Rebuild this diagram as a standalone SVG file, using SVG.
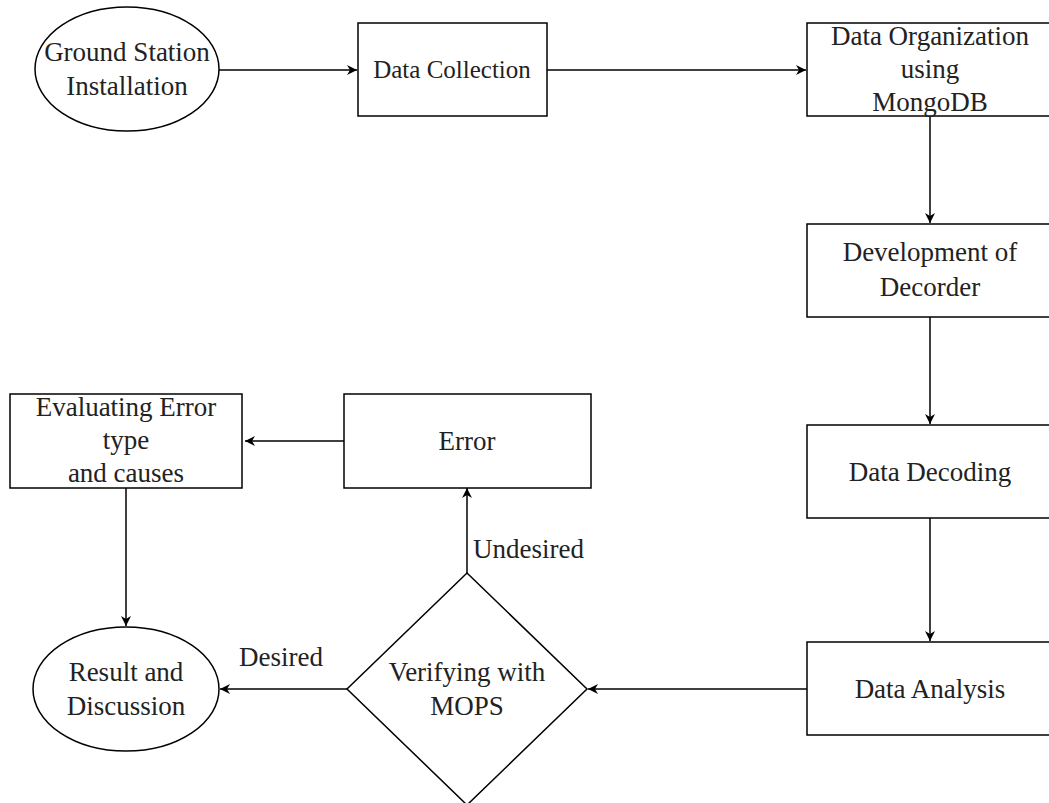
<svg xmlns="http://www.w3.org/2000/svg" width="1049" height="803" viewBox="0 0 1049 803">
<style>
.s{fill:#fff;stroke:#000;stroke-width:1.5}
.t{font-family:"Liberation Serif","Times New Roman",serif;font-size:27px;fill:#222;text-anchor:middle}
.l{fill:none;stroke:#000;stroke-width:1.5}
</style>
<defs>
<marker id="a" viewBox="0 0 10 10" refX="10" refY="5" markerWidth="10" markerHeight="10" markerUnits="userSpaceOnUse" orient="auto">
<path d="M0,0 L10,5 L0,10 L3,5 z" fill="#000"/>
</marker>
</defs>
<rect width="1049" height="803" fill="#fff"/>
<g id="connectors">
<line class="l" x1="219" y1="70" x2="357" y2="70" marker-end="url(#a)"/>
<line class="l" x1="547" y1="70" x2="806" y2="70" marker-end="url(#a)"/>
<line class="l" x1="930" y1="116" x2="930" y2="223" marker-end="url(#a)"/>
<line class="l" x1="930" y1="317" x2="930" y2="424" marker-end="url(#a)"/>
<line class="l" x1="930" y1="518" x2="930" y2="641" marker-end="url(#a)"/>
<line class="l" x1="807" y1="689" x2="588" y2="689" marker-end="url(#a)"/>
<line class="l" x1="347" y1="689" x2="220" y2="689" marker-end="url(#a)"/>
<line class="l" x1="467" y1="573" x2="467" y2="488" marker-end="url(#a)"/>
<line class="l" x1="344" y1="441" x2="245" y2="441" marker-end="url(#a)"/>
<line class="l" x1="126" y1="488" x2="126" y2="626" marker-end="url(#a)"/>
<text class="t" x="281" y="666">Desired</text>
<text class="t" x="473" y="558" style="text-anchor:start">Undesired</text>
</g>
<g id="ground">
<ellipse class="s" cx="127" cy="69" rx="92" ry="62"/>
<text class="t" x="127" y="61">Ground Station</text>
<text class="t" x="127" y="95">Installation</text>
</g>
<g id="collection">
<rect class="s" x="358" y="23" width="189" height="93"/>
<text class="t" x="452" y="78" style="font-size:25px">Data Collection</text>
</g>
<g id="organization">
<rect class="s" x="807" y="23" width="246" height="93"/>
<text class="t" x="930" y="45">Data Organization</text>
<text class="t" x="930" y="78">using</text>
<text class="t" x="930" y="111">MongoDB</text>
</g>
<g id="development">
<rect class="s" x="807" y="224" width="246" height="93"/>
<text class="t" x="930" y="261">Development of</text>
<text class="t" x="930" y="296">Decorder</text>
</g>
<g id="decoding">
<rect class="s" x="807" y="425" width="246" height="93"/>
<text class="t" x="930" y="481">Data Decoding</text>
</g>
<g id="analysis">
<rect class="s" x="807" y="642" width="246" height="93"/>
<text class="t" x="930" y="698">Data Analysis</text>
</g>
<g id="verify">
<polygon class="s" points="467,573 587,689 467,805 347,689"/>
<text class="t" x="467" y="681">Verifying with</text>
<text class="t" x="467" y="715">MOPS</text>
</g>
<g id="error">
<rect class="s" x="344" y="394" width="247" height="94"/>
<text class="t" x="467" y="450">Error</text>
</g>
<g id="evaluating">
<rect class="s" x="10" y="394" width="232" height="94"/>
<text class="t" x="126" y="416">Evaluating Error</text>
<text class="t" x="126" y="449">type</text>
<text class="t" x="126" y="482">and causes</text>
</g>
<g id="result">
<ellipse class="s" cx="126" cy="689" rx="93" ry="62"/>
<text class="t" x="126" y="681">Result and</text>
<text class="t" x="126" y="715">Discussion</text>
</g>
</svg>
